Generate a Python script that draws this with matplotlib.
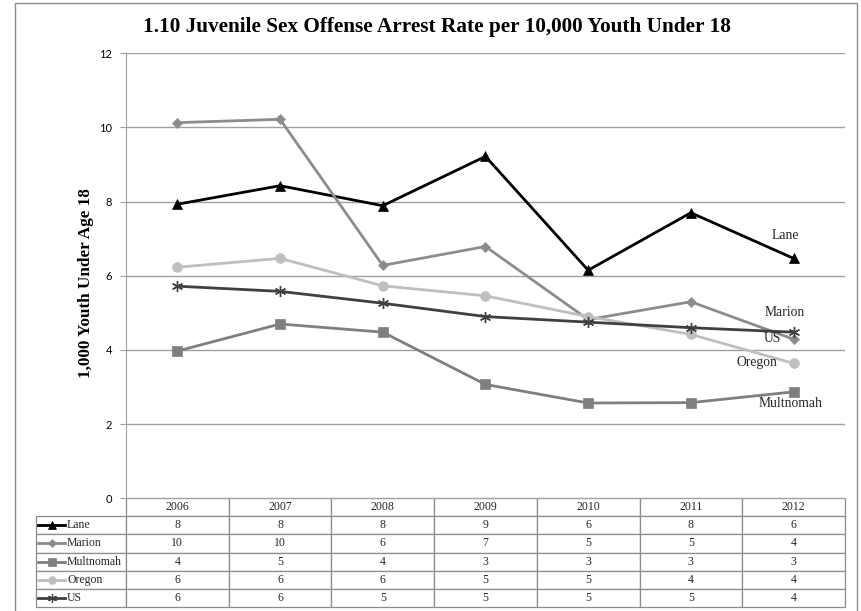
import matplotlib
matplotlib.use("Agg")
import matplotlib.pyplot as plt
from matplotlib.patches import Rectangle

years = ["2006", "2007", "2008", "2009", "2010", "2011", "2012"]
series_names = ["Lane", "Marion", "Multnomah", "Oregon", "US"]

lane = [7.93, 8.43, 7.89, 9.22, 6.15, 7.70, 6.47]
marion = [10.13, 10.22, 6.28, 6.79, 4.82, 5.30, 4.29]
multnomah = [3.97, 4.70, 4.48, 3.07, 2.57, 2.58, 2.87]
oregon = [6.23, 6.47, 5.73, 5.46, 4.90, 4.42, 3.64]
us = [5.72, 5.58, 5.26, 4.90, 4.75, 4.60, 4.48]

title = "1.10 Juvenile Sex Offense Arrest Rate per 10,000 Youth Under 18"
ylabel = "1,000 Youth Under Age 18"

# style per series: colour, marker, marker size, line width
styles = {
    "Lane": ("#000000", "^", 7, 2.0),
    "Marion": ("#8c8c8c", "D", 5, 2.0),
    "Multnomah": ("#7f7f7f", "s", 6.5, 2.0),
    "Oregon": ("#bfbfbf", "o", 7, 2.0),
    "US": ("#404040", (6, 2, 0), 8, 2.0),
}
# data label offset from last point (pixels: dx, dy up)
label_offsets = {
    "Lane": (-8, 23),
    "Marion": (-9, 27),
    "Multnomah": (-3, -12),
    "Oregon": (-37, 1),
    "US": (-21, -6),
}

serif = ["Liberation Serif", "DejaVu Serif"]
W, H = 861, 611

fig = plt.figure(figsize=(W / 100, H / 100), dpi=100)
ax_l, ax_r, ax_t, ax_b = 126, 844.9, 53.3, 498.3
ax = fig.add_axes([ax_l / W, (H - ax_b) / H, (ax_r - ax_l) / W, (ax_b - ax_t) / H])
axw, axh = ax_r - ax_l, ax_b - ax_t

data = {"Lane": lane, "Marion": marion, "Multnomah": multnomah,
        "Oregon": oregon, "US": us}
x = list(range(len(years)))

# grid lines
for yv in range(2, 13, 2):
    ax.axhline(yv, color="#a0a0a0", lw=1, zorder=1)

for name in series_names:
    c, m, ms, lw = styles[name]
    ax.plot(x, data[name], color=c, marker=m, markersize=ms, lw=lw,
            markeredgecolor=c, markeredgewidth=1.0 if name == "US" else 0.5,
            zorder=3, clip_on=False)
    dx, dy = label_offsets[name]
    ax.annotate(name, (x[-1], data[name][-1]), xytext=(dx * 0.72, dy * 0.72),
                textcoords="offset points", ha="center", va="center",
                fontsize=9.8, family=serif, color="#262626")

ax.set_xlim(-0.5, len(years) - 0.5)
ax.set_ylim(0, 12)
ax.set_yticks(range(0, 13, 2))
ax.tick_params(axis="y", length=4, color="#a0a0a0", labelsize=8, pad=6)
ax.set_xticks([])
for lab in ax.get_yticklabels():
    lab.set_family(["Lato", "DejaVu Sans"])
for s in ["top", "right"]:
    ax.spines[s].set_visible(False)
ax.spines["left"].set_color("#a0a0a0")
ax.spines["bottom"].set_color("#a0a0a0")

# data table
tbl_top, tbl_bot, tbl_left = 498.3, 606.7, 36
label_w = ax_l - tbl_left
col_w = axw / len(years)
cell_text = [[""] + years]
for name in series_names:
    cell_text.append([name] + [str(int(round(v))) for v in data[name]])
tbl = ax.table(cellText=cell_text,
               colWidths=[label_w] + [col_w] * len(years),
               bbox=[-label_w / axw, -(tbl_bot - tbl_top) / axh,
                     (label_w + axw) / axw, (tbl_bot - tbl_top) / axh],
               cellLoc="center")
tbl.auto_set_font_size(False)
tbl.set_fontsize(8.5)
for (r, c), cell in tbl.get_celld().items():
    cell.set_edgecolor("#8c8c8c")
    cell.set_linewidth(0.9)
    cell.get_text().set_family(serif)
    cell.get_text().set_color("#262626")
    if r == 0 and c == 0:
        cell.visible_edges = "open"
    if c == 0 and r > 0:
        cell._loc = "left"
        cell.PAD = 31 / label_w
        cell.get_text().set_ha("left")

# legend keys in the table's label column
row_h = (tbl_bot - tbl_top) / 6
for i, name in enumerate(series_names):
    c, m, ms, lw = styles[name]
    yc = tbl_top + row_h * (i + 1.5)
    yf = (ax_b - yc) / axh
    ax.plot([(38 - ax_l) / axw, (65 - ax_l) / axw], [yf, yf], color=c, lw=lw,
            transform=ax.transAxes, clip_on=False, zorder=5)
    ax.plot([(52 - ax_l) / axw], [yf], color=c, marker=m, markersize=ms * 0.8,
            markeredgecolor=c, markeredgewidth=0.9 if name == "US" else 0.5,
            transform=ax.transAxes, clip_on=False, zorder=5)

fig.text(437 / W, 1 - 27 / H, title, ha="center", va="center",
         fontsize=15.3, fontweight="bold", family=serif)
fig.text(86 / W, 1 - 283 / H, ylabel, ha="center", va="center", rotation=90,
         fontsize=12.3, fontweight="bold", family=serif)

fig.patches.append(Rectangle((15 / W, -0.01), (857 - 15) / W, 1 - 3 / H + 0.01,
                             transform=fig.transFigure, fill=False,
                             edgecolor="#8c8c8c", lw=1))

fig.savefig("out.png", dpi=100)
